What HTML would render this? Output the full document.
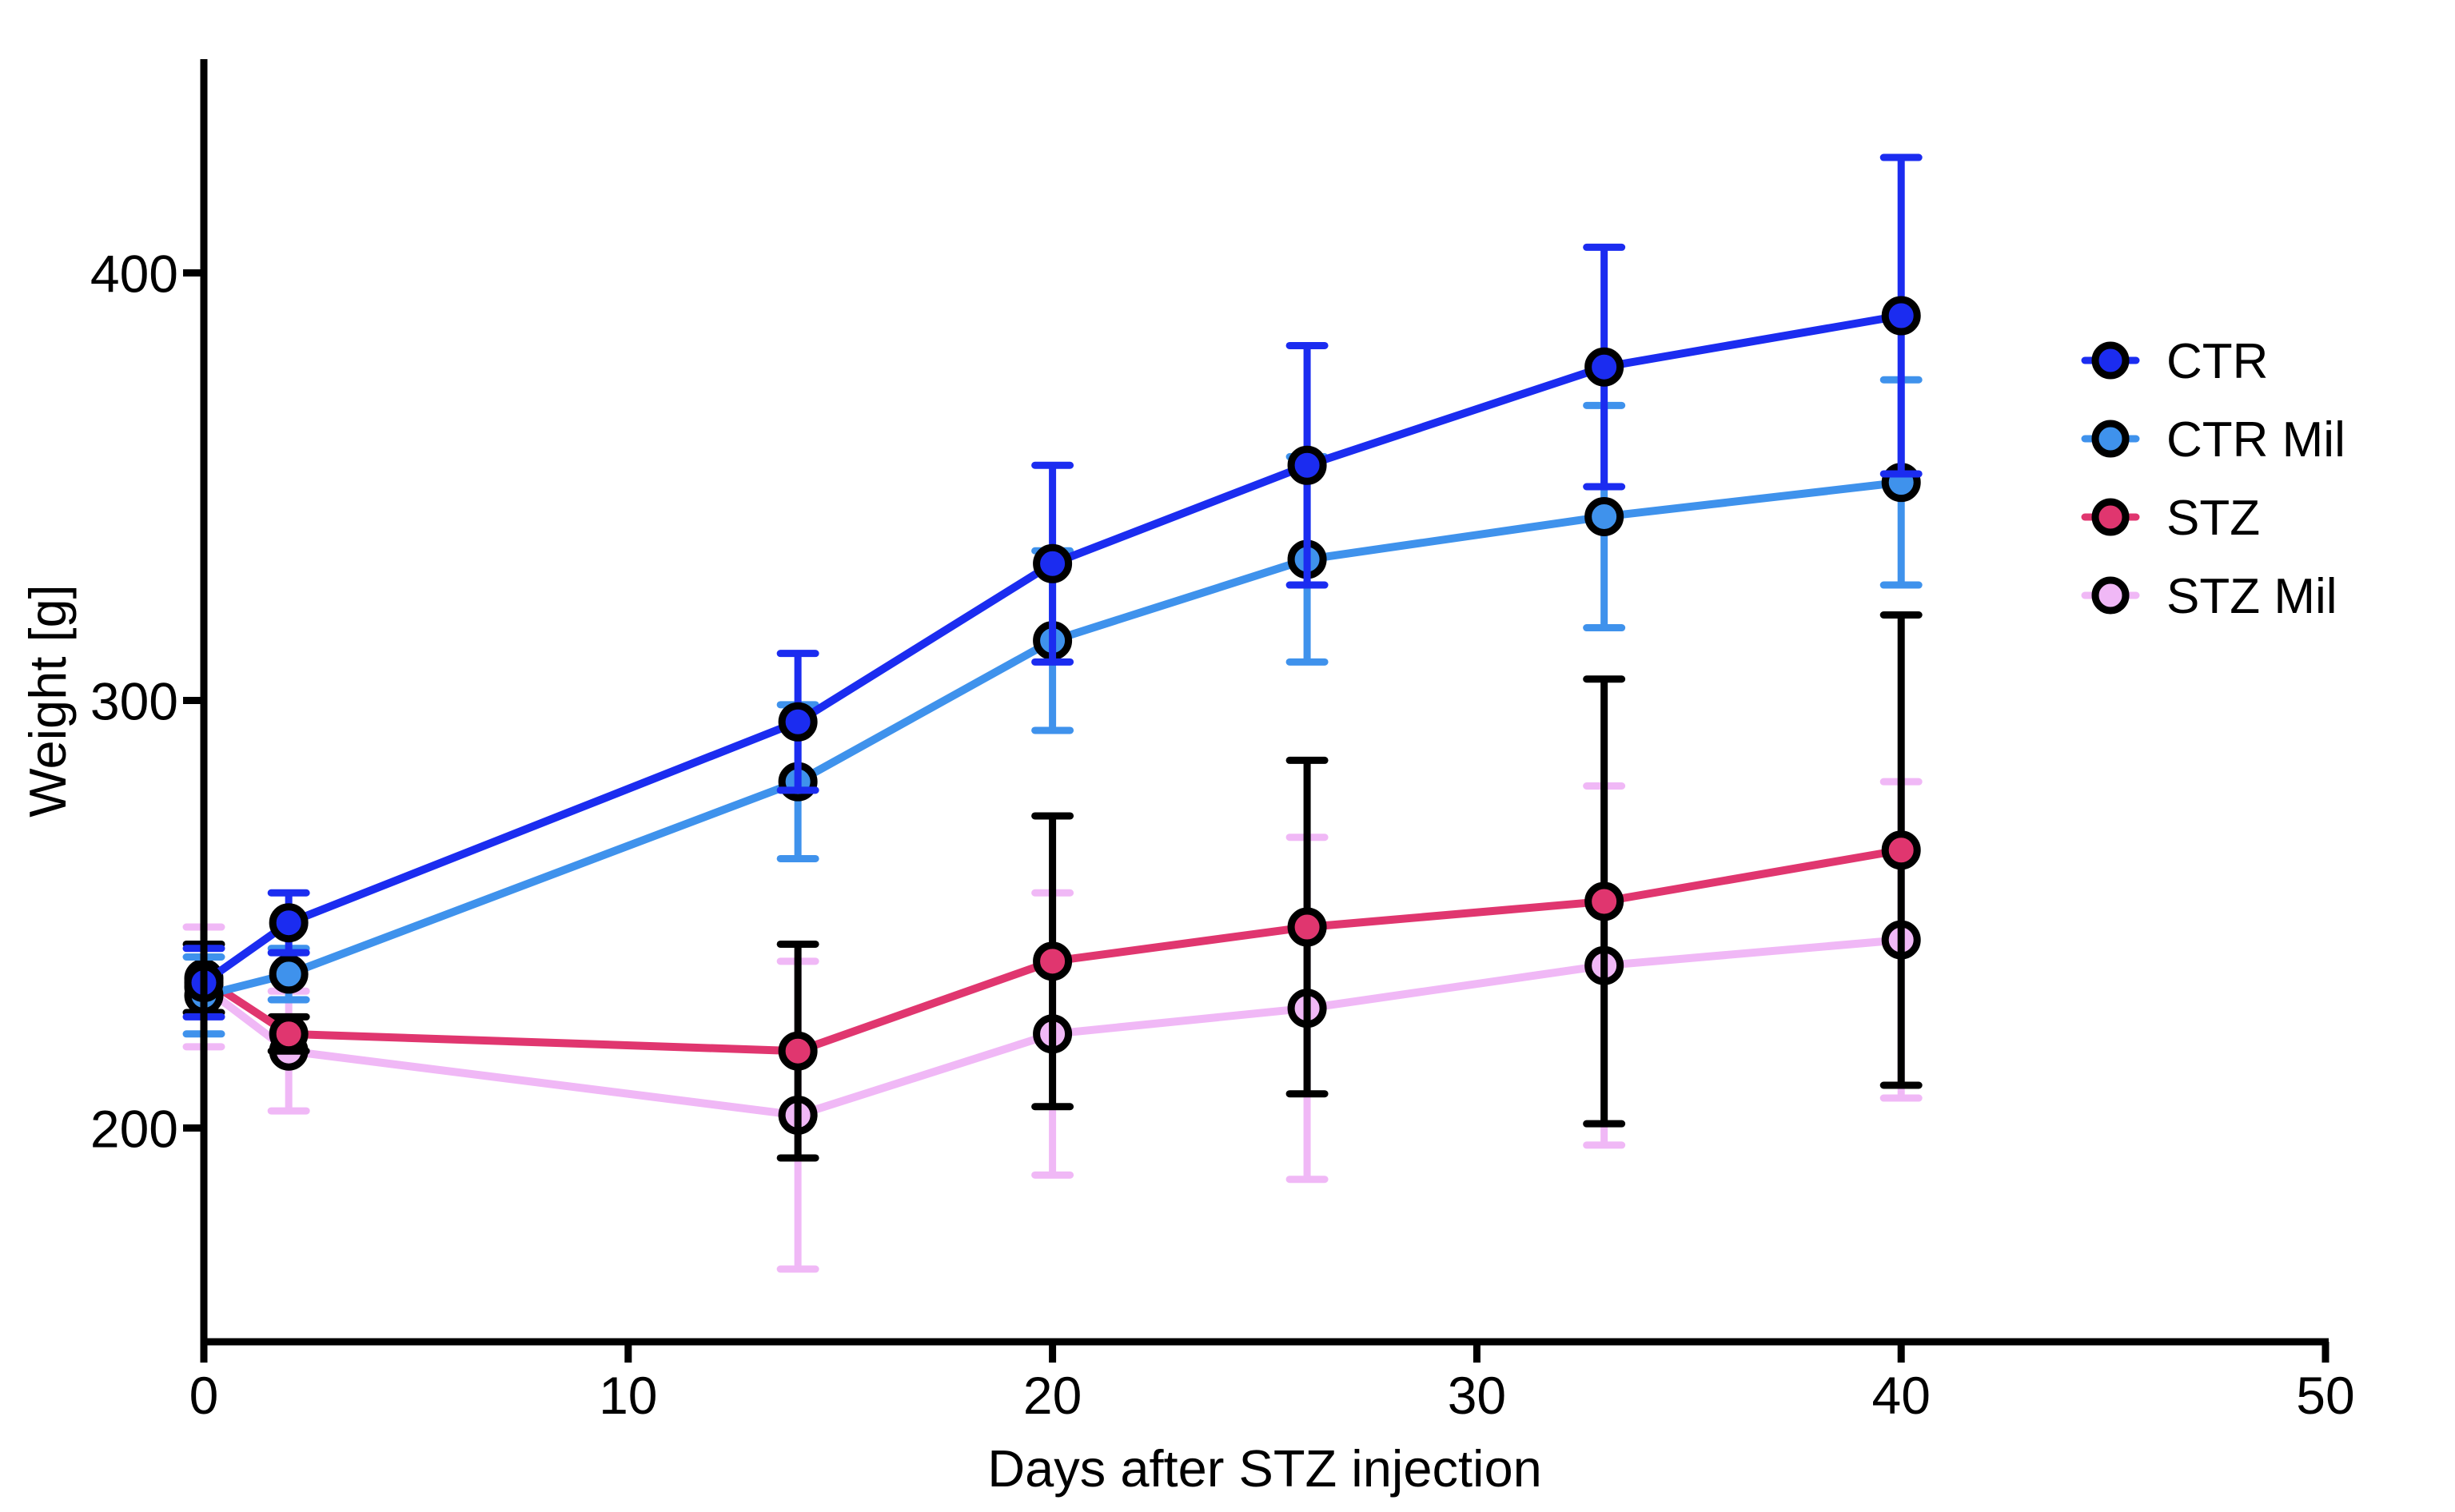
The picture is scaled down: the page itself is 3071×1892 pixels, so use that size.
<!DOCTYPE html>
<html><head><meta charset="utf-8"><style>
html,body{margin:0;padding:0;background:#fff;}
svg{display:block;font-family:"Liberation Sans",Arial,sans-serif;}
</style></head><body>
<svg id="chart" width="3071" height="1892" viewBox="0 0 3071 1892" xmlns="http://www.w3.org/2000/svg">
<g id="series"></g>
<g id="axes"></g>
<g id="legend"></g>
</svg>
<script>
const days = [0, 2, 14, 20, 26, 33, 40];
const seriesNames = ["CTR", "CTR Mil", "STZ", "STZ Mil"];
const ctrMean = [234, 248, 295, 332, 355, 378, 390];
const ctrSD = [8, 7, 16, 23, 28, 28, 37];
const ctrMilMean = [231, 236, 281, 314, 333, 343, 351];
const ctrMilSD = [9, 6, 18, 21, 24, 26, 24];
const stzMean = [235, 222, 218, 239, 247, 253, 265];
const stzSD = [8, 4, 25, 34, 39, 52, 55];
const stzMilMean = [233, 218, 203, 222, 228, 238, 244];
const stzMilSD = [14, 14, 36, 33, 40, 42, 37];
const xTicks = [0, 10, 20, 30, 40, 50];
const yTicks = [200, 300, 400];

const NS = "http://www.w3.org/2000/svg";
const L = 255, R = 2909, T = 74, B = 1679;
const xMin = 0, xMax = 50, yMin = 150, yMax = 450;
function sx(v){ return L + (v - xMin) / (xMax - xMin) * (R - L); }
function sy(v){ return B - (v - yMin) / (yMax - yMin) * (B - T); }
function mk(tag, attrs, parent){ const e = document.createElementNS(NS, tag); for (const k in attrs) e.setAttribute(k, attrs[k]); parent.appendChild(e); return e; }

const seriesG = document.getElementById("series");
const axesG = document.getElementById("axes");
const legG = document.getElementById("legend");

const defs = [
  {name: seriesNames[3], mean: stzMilMean, sd: stzMilSD, line: "#f0b8f6", fill: "#f0b8f6", err: "#f0b8f6", key: "stz-mil"},
  {name: seriesNames[2], mean: stzMean, sd: stzSD, line: "#e0366f", fill: "#e0366f", err: "#000", key: "stz"},
  {name: seriesNames[1], mean: ctrMilMean, sd: ctrMilSD, line: "#3f92ec", fill: "#3f92ec", err: "#3f92ec", key: "ctr-mil"},
  {name: seriesNames[0], mean: ctrMean, sd: ctrSD, line: "#1b2cf0", fill: "#1b2cf0", err: "#1b2cf0", key: "ctr"}
];

defs.forEach(s => {
  const g = mk("g", {}, seriesG);
  
  
  days.forEach((d, i) => {
    const x = sx(d), y1 = sy(s.mean[i] + s.sd[i]), y2 = sy(s.mean[i] - s.sd[i]);
    const eb = mk("path", {d: `M${x},${y1}V${y2}M${x-22},${y1}H${x+22}M${x-22},${y2}H${x+22}`, stroke: s.err, "stroke-width": 9, fill: "none", "stroke-linecap": "round"}, g);
    
    
  });
  const pts = days.map((d, i) => sx(d) + "," + sy(s.mean[i])).join(" ");
  const pl = mk("polyline", {points: pts, fill: "none", stroke: s.line, "stroke-width": 10, "stroke-linejoin": "round"}, g);
  
  
  days.forEach((d, i) => {
    const c = mk("circle", {cx: sx(d), cy: sy(s.mean[i]), r: 20, fill: s.fill, stroke: "#000", "stroke-width": 9}, g);
    
    
  });
});

// axes
const ya = mk("line", {x1: L, y1: T, x2: L, y2: B + 5, stroke: "#000", "stroke-width": 9}, axesG);


const xa = mk("line", {x1: L - 4, y1: B, x2: R + 4, y2: B, stroke: "#000", "stroke-width": 9}, axesG);


xTicks.forEach(t => {
  const tk = mk("line", {x1: sx(t), y1: B, x2: sx(t), y2: B + 26, stroke: "#000", "stroke-width": 9}, axesG);
  
  
  const tl = mk("text", {x: sx(t), y: B + 90, "font-size": 66, "text-anchor": "middle", fill: "#000"}, axesG);
  tl.textContent = t;
  
  
});
yTicks.forEach(t => {
  const tk = mk("line", {x1: L - 26, y1: sy(t), x2: L, y2: sy(t), stroke: "#000", "stroke-width": 9}, axesG);
  
  
  const tl = mk("text", {x: L - 32, y: sy(t) + 24, "font-size": 66, "text-anchor": "end", fill: "#000"}, axesG);
  tl.textContent = t;
  
  
});
const xt = mk("text", {x: 1582, y: 1860, "font-size": 65, "text-anchor": "middle", fill: "#000"}, axesG);
xt.textContent = "Days after STZ injection";


const yt = mk("text", {x: 0, y: 0, "font-size": 65, "text-anchor": "middle", fill: "#000", transform: "translate(82,877) rotate(-90)"}, axesG);
yt.textContent = "Weight [g]";



// legend
const legOrder = [defs[3], defs[2], defs[1], defs[0]];
legOrder.forEach((s, i) => {
  const y = 451 + i * 98;
  const g = mk("g", {}, legG);
  
  
  mk("line", {x1: 2608, y1: y, x2: 2672, y2: y, stroke: s.line, "stroke-width": 9, "stroke-linecap": "round"}, g);
  mk("circle", {cx: 2640, cy: y, r: 19, fill: s.fill, stroke: "#000", "stroke-width": 9}, g);
  const tx = mk("text", {x: 2710, y: y + 22, "font-size": 62, fill: "#000"}, g);
  tx.textContent = s.name;
});
</script>
</body></html>
